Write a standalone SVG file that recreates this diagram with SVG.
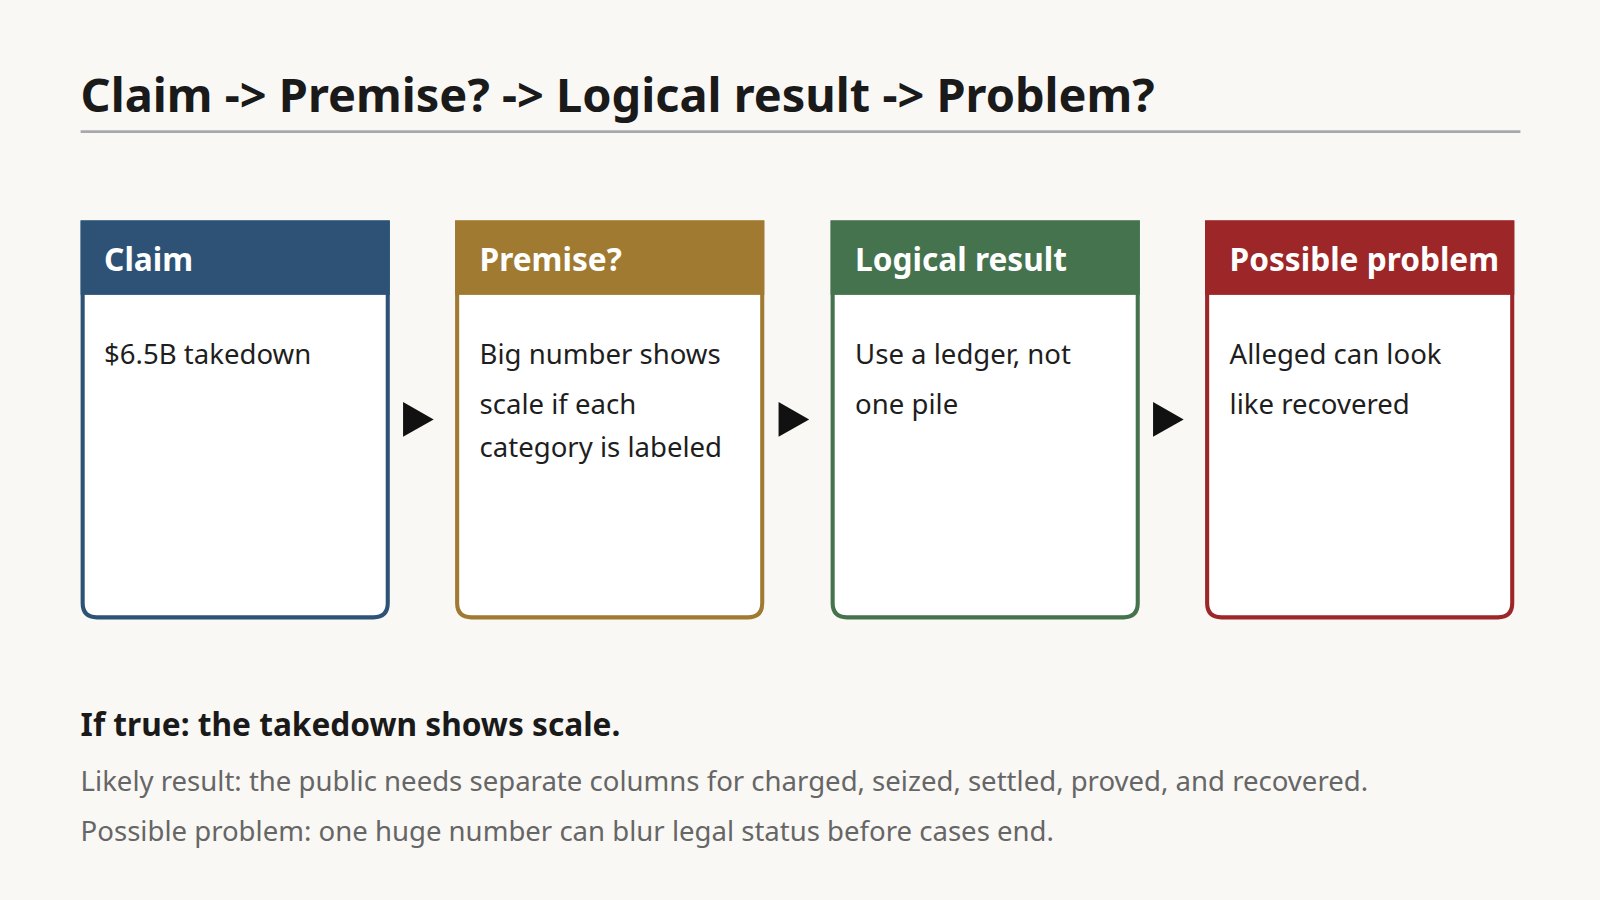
<svg xmlns="http://www.w3.org/2000/svg" width="1600" height="900" viewBox="0 0 1600 900">
<style>
text{font-family:"Noto Sans","Open Sans","DejaVu Sans",sans-serif}
.h{font-size:31px;font-weight:700;fill:#fff}
.b{font-size:27px;fill:#1e1e1e}
.box{fill:#fff;stroke-width:4}
</style>
<defs><path id="tri" d="M0,-17 L30,0 L0,17 Z" fill="#111"/></defs>
<rect width="1600" height="900" fill="#f9f8f5"/>
<g transform="scale(1.0204)">
<text x="79" y="110" font-size="46" font-weight="700" fill="#1a1a1a">Claim -&gt; Premise? -&gt; Logical result -&gt; Problem?</text>
<line x1="79" y1="129" x2="1490" y2="129" stroke="#a8a8b0" stroke-width="2.5"/>
<g id="claim">
<path class="box" stroke="#2d5276" d="M81,218 H380 V591 Q380,605 366,605 H95 Q81,605 81,591 Z"/>
<rect x="79" y="216" width="303" height="73" fill="#2d5276"/>
<text class="h" x="102" y="266">Claim</text>
<text class="b" x="102" y="357">$6.5B takedown</text>
</g>
<g id="premise">
<path class="box" stroke="#a07a30" d="M448,218 H747 V591 Q747,605 733,605 H462 Q448,605 448,591 Z"/>
<rect x="446" y="216" width="303" height="73" fill="#a07a30"/>
<text class="h" x="470" y="266">Premise?</text>
<text class="b" x="470" y="357">Big number shows</text>
<text class="b" x="470" y="406">scale if each</text>
<text class="b" x="470" y="448">category is labeled</text>
</g>
<g id="result">
<path class="box" stroke="#44734e" d="M816,218 H1115 V591 Q1115,605 1101,605 H830 Q816,605 816,591 Z"/>
<rect x="814" y="216" width="303" height="73" fill="#44734e"/>
<text class="h" x="838" y="266">Logical result</text>
<text class="b" x="838" y="357">Use a ledger, not</text>
<text class="b" x="838" y="406">one pile</text>
</g>
<g id="problem">
<path class="box" stroke="#9c2628" d="M1183,218 H1482 V591 Q1482,605 1468,605 H1197 Q1183,605 1183,591 Z"/>
<rect x="1181" y="216" width="303" height="73" fill="#9c2628"/>
<text class="h" x="1205" y="266">Possible problem</text>
<text class="b" x="1205" y="357">Alleged can look</text>
<text class="b" x="1205" y="406">like recovered</text>
</g>
<g id="connectors">
<use href="#tri" x="395" y="411"/>
<use href="#tri" x="763" y="411"/>
<use href="#tri" x="1130" y="411"/>
</g>
<text x="79" y="721" font-size="31" font-weight="700" fill="#1a1a1a">If true: the takedown shows scale.</text>
<text x="79" y="775" font-size="27" fill="#666">Likely result: the public needs separate columns for charged, seized, settled, proved, and recovered.</text>
<text x="79" y="824" font-size="27" fill="#666">Possible problem: one huge number can blur legal status before cases end.</text>
</g>
</svg>
